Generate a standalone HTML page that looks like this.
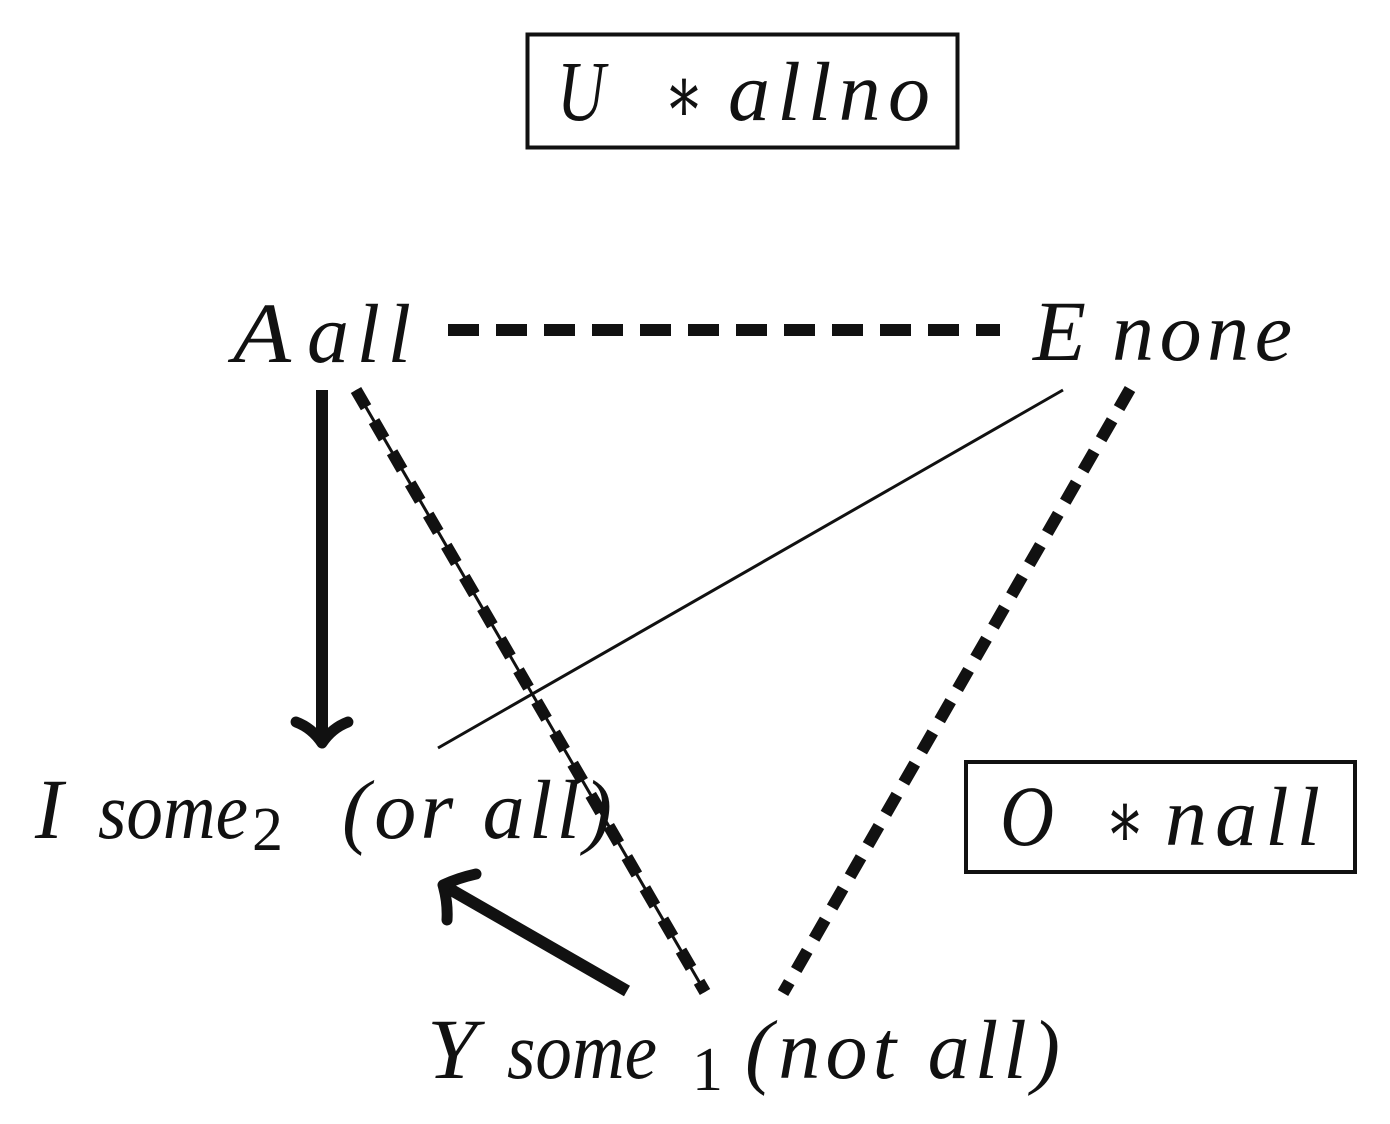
<!DOCTYPE html>
<html><head><meta charset="utf-8"><style>
html,body{margin:0;padding:0;background:#fff;}
svg{display:block;}
text{font-family:"Liberation Serif","DejaVu Serif",serif;font-style:italic;fill:#111;}
.up{font-style:normal;}
</style></head><body>
<svg width="1390" height="1124" viewBox="0 0 1390 1124" xmlns="http://www.w3.org/2000/svg" font-family="Liberation Serif, DejaVu Serif, serif">
<rect x="527.5" y="34.5" width="430" height="113" fill="none" stroke="#111" stroke-width="4"/>
<rect x="966" y="762" width="389" height="110" fill="none" stroke="#111" stroke-width="4"/>
<text x="557" y="120" font-size="86" textLength="48" lengthAdjust="spacingAndGlyphs">U</text>
<text class="up" x="664" y="122" font-size="80" textLength="40" lengthAdjust="spacingAndGlyphs">∗</text>
<text x="728" y="120" font-size="84" textLength="202" lengthAdjust="spacing">allno</text>
<text x="1000" y="845" font-size="86" textLength="54" lengthAdjust="spacingAndGlyphs">O</text>
<text class="up" x="1105" y="847" font-size="80" textLength="40" lengthAdjust="spacingAndGlyphs">∗</text>
<text x="1165" y="845" font-size="84" textLength="155" lengthAdjust="spacing">nall</text>
<text x="233" y="362" font-size="86" textLength="58" lengthAdjust="spacingAndGlyphs">A</text>
<text x="307" y="362" font-size="84" textLength="104" lengthAdjust="spacing">all</text>
<text x="1033" y="360" font-size="86" textLength="53" lengthAdjust="spacingAndGlyphs">E</text>
<text x="1112" y="360" font-size="84" textLength="180" lengthAdjust="spacing">none</text>
<text x="35" y="838" font-size="86" textLength="28" lengthAdjust="spacingAndGlyphs">I</text>
<text x="98" y="838" font-size="80" textLength="150" lengthAdjust="spacingAndGlyphs">some</text>
<text class="up" x="252" y="850" font-size="62">2</text>
<text x="342" y="838" font-size="84" textLength="270" lengthAdjust="spacing">(or all)</text>
<text x="427" y="1078" font-size="86" textLength="50" lengthAdjust="spacingAndGlyphs">Y</text>
<text x="507" y="1078" font-size="80" textLength="150" lengthAdjust="spacingAndGlyphs">some</text>
<text class="up" x="692" y="1090" font-size="62">1</text>
<text x="745" y="1078" font-size="84" textLength="315" lengthAdjust="spacing">(not all)</text>

<line x1="448" y1="330" x2="1000" y2="330" stroke="#111" stroke-width="12" stroke-dasharray="31 17"/>
<line x1="1130" y1="389" x2="783" y2="993" stroke="#111" stroke-width="12" stroke-dasharray="22 14"/>
<line x1="1063" y1="390" x2="438" y2="748" stroke="#111" stroke-width="3"/>
<line x1="356" y1="390" x2="705" y2="992" stroke="#111" stroke-width="3"/>
<line x1="356" y1="390" x2="705" y2="992" stroke="#111" stroke-width="12" stroke-dasharray="20 16"/>
<line x1="322" y1="390" x2="322" y2="742" stroke="#111" stroke-width="12"/>
<path d="M296 722 Q312 728 322 743 Q332 728 348 722" fill="none" stroke="#111" stroke-width="11" stroke-linecap="round" stroke-linejoin="round"/>
<line x1="627" y1="991" x2="448" y2="888" stroke="#111" stroke-width="12"/>
<path d="M476 874 Q458 878 443 885 Q448 902 447 920" fill="none" stroke="#111" stroke-width="11" stroke-linecap="round" stroke-linejoin="round"/>
</svg>
</body></html>
